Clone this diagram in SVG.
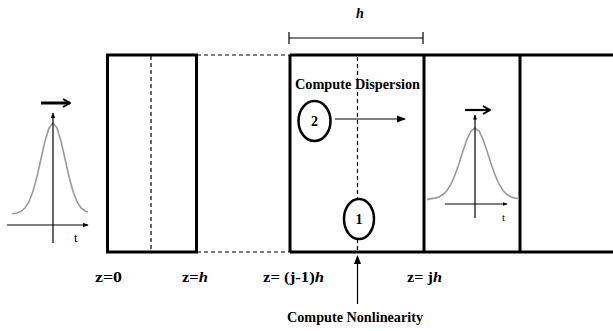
<svg xmlns="http://www.w3.org/2000/svg" width="613" height="331" viewBox="0 0 613 331">
<defs>
<marker id="ah" viewBox="0 0 10 10" refX="9" refY="5" markerWidth="6" markerHeight="6" orient="auto" markerUnits="userSpaceOnUse"><path d="M0,1 L10,5 L0,9 Z" fill="#000"/></marker>
<marker id="ahs" viewBox="0 0 10 10" refX="9" refY="5" markerWidth="5" markerHeight="5" orient="auto" markerUnits="userSpaceOnUse"><path d="M0,1 L10,5 L0,9 Z" fill="#000"/></marker>
<marker id="ahl" viewBox="0 0 10 10" refX="9" refY="5" markerWidth="9" markerHeight="9" orient="auto" markerUnits="userSpaceOnUse"><path d="M0,1 L10,5 L0,9 Z" fill="#000"/></marker>
<marker id="ao" viewBox="0 0 10 10" refX="9" refY="5" markerWidth="10" markerHeight="10" orient="auto" markerUnits="userSpaceOnUse"><path d="M2,1 L9,5 L2,9" fill="none" stroke="#000" stroke-width="2"/></marker>
</defs>
<style>
.box{fill:none;stroke:#000;stroke-width:3}
.dash{fill:none;stroke:#000;stroke-width:1.2;stroke-dasharray:4 3}
.thin{fill:none;stroke:#000;stroke-width:1.2}
.gauss{fill:none;stroke:#9a9a9a;stroke-width:1.6}
text{font-family:'Liberation Serif','DejaVu Serif','Times New Roman',serif}
.lbl{font-weight:bold;font-size:14px;fill:#000}
.it{font-style:italic}
.tl{font-size:13px;fill:#000}
.circ{fill:#fff;stroke:#000;stroke-width:2.5}
</style>
<rect width="613" height="331" fill="#fff"/>
<g id="slab-left">
<rect class="box" x="107.5" y="55" width="89" height="197"/>
<line class="dash" x1="151" y1="56" x2="151" y2="251"/>
</g>
<g id="slab-middle">
<line class="box" x1="290" y1="55" x2="613" y2="55"/>
<line class="box" x1="290" y1="252" x2="613" y2="252"/>
<line class="box" x1="290" y1="55" x2="290" y2="252"/>
<line class="box" x1="424" y1="55" x2="424" y2="252"/>
<line class="box" x1="520" y1="55" x2="520" y2="252"/>
</g>
<g id="connectors">
<line class="dash" x1="197" y1="55" x2="290" y2="55"/>
<line class="dash" x1="197" y1="252" x2="290" y2="252"/>
<line class="dash" x1="357.5" y1="57" x2="357.5" y2="251"/>
<line class="thin" x1="289" y1="38" x2="423" y2="38"/>
<line class="thin" x1="289" y1="32" x2="289" y2="44"/>
<line class="thin" x1="423" y1="32" x2="423" y2="44"/>
<line class="thin" x1="335" y1="119" x2="405" y2="119" marker-end="url(#ahl)"/>
<line class="thin" x1="357.5" y1="304" x2="357.5" y2="256" marker-end="url(#ahl)"/>
</g>
<g id="pulse-left">
<line x1="41" y1="103" x2="70" y2="103" stroke="#000" stroke-width="3" marker-end="url(#ao)"/>
<polyline class="gauss" points="12,213.7 17,213 21,211.4 25,208 29,201.7 33,191.3 37,176.6 41,158.8 45,141.1 49,127.9 53,123 57,127.9 61,141.1 65,158.8 69,176.6 73,191.3 77,201.7 81,208 85,211 88,212"/>
<line class="thin" x1="53" y1="243" x2="53" y2="113" marker-end="url(#ah)"/>
<line class="thin" x1="7" y1="225" x2="88" y2="225" marker-end="url(#ah)"/>
<text class="tl" x="74" y="242">t</text>
</g>
<g id="pulse-right">
<line x1="465" y1="110" x2="490" y2="110" stroke="#000" stroke-width="2.2" marker-end="url(#ao)"/>
<polyline class="gauss" points="427,199.6 431,198.6 435,198.1 439,196.9 443,194.5 447,190.5 451,184 455,174.9 459,163.5 463,150.9 467,139.3 471,131 475,128 479,131 483,139.3 487,150.9 491,163.5 495,174.9 499,184 503,190.5 507,194.5 511,196.9 515,198.1 519,198.4"/>
<line class="thin" x1="475" y1="218" x2="475" y2="115" marker-end="url(#ahs)"/>
<line class="thin" x1="445" y1="204" x2="507" y2="204" marker-end="url(#ahs)"/>
<text class="tl" x="502" y="221" style="font-size:11px">t</text>
</g>
<g id="step-2">
<ellipse class="circ" cx="314.5" cy="121" rx="16" ry="20"/>
<text class="lbl" x="314.5" y="126" text-anchor="middle">2</text>
</g>
<g id="step-1">
<ellipse class="circ" cx="359" cy="219" rx="15" ry="20"/>
<text class="lbl" x="359" y="224" text-anchor="middle">1</text>
</g>
<g id="labels">
<text class="lbl it" x="356" y="18">h</text>
<text class="lbl" x="295" y="89" textLength="125" lengthAdjust="spacingAndGlyphs">Compute Dispersion</text>
<text class="lbl" x="287" y="322" textLength="136" lengthAdjust="spacingAndGlyphs">Compute Nonlinearity</text>
<text class="lbl" x="95" y="282" textLength="27" lengthAdjust="spacingAndGlyphs">z=0</text>
<text class="lbl" x="182" y="282" textLength="26" lengthAdjust="spacingAndGlyphs">z=<tspan class="it">h</tspan></text>
<text class="lbl" x="263" y="282" textLength="61" lengthAdjust="spacingAndGlyphs">z= (j-1)<tspan class="it">h</tspan></text>
<text class="lbl" x="407" y="282" textLength="35" lengthAdjust="spacingAndGlyphs">z= j<tspan class="it">h</tspan></text>
</g>
</svg>
